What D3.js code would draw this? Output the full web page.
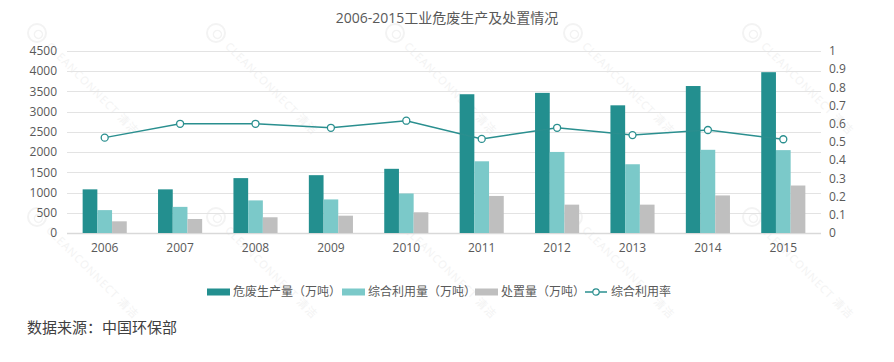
<!DOCTYPE html>
<html>
<head>
<meta charset="utf-8">
<script src="https://cdn.jsdelivr.net/npm/d3@7"></script>
<style>
  body { margin: 0; background: #fff; }
  svg { display: block; font-family: "Open Sans", "Noto Sans CJK SC", sans-serif; }
</style>
</head>
<body>
<div id="chart"></div>
<script>
// data
const years = ["2006","2007","2008","2009","2010","2011","2012","2013","2014","2015"];
const produced = [1079, 1079, 1357, 1430, 1587, 3431, 3465, 3157, 3634, 3976];   // 危废生产量
const utilized = [566, 646, 806, 830, 977, 1773, 2004, 1700, 2057, 2049];        // 综合利用量
const disposed = [289, 346, 389, 428, 512, 916, 701, 701, 929, 1174];            // 处置量
const rate = [0.524, 0.600, 0.600, 0.578, 0.617, 0.517, 0.578, 0.538, 0.566, 0.515]; // 综合利用率
const leftTicks = [0, 500, 1000, 1500, 2000, 2500, 3000, 3500, 4000, 4500];
const rightTicks = [0, 0.1, 0.2, 0.3, 0.4, 0.5, 0.6, 0.7, 0.8, 0.9, 1];

const seriesNames = ["危废生产量（万吨）", "综合利用量（万吨）", "处置量（万吨）"];
const lineName = "综合利用率";

const width = 894, height = 362;
const margin = {top: 51, right: 73, bottom: 129, left: 67};
const colors = ["#238f8f", "#7bc9c9", "#bfbfbf"];
const lineColor = "#2a8f8f";

const svg = d3.select("#chart").append("svg")
  .attr("width", width)
  .attr("height", height);

svg.append("rect").attr("width", width).attr("height", height).attr("fill", "#fff");

// faint watermark
const wm = svg.append("g").attr("class", "watermark");
[33, 217].forEach(function(wy) {
  [37, 216, 395, 573, 752].forEach(function(wx) {
    const g = wm.append("g").attr("transform", "translate(" + wx + "," + wy + ") rotate(45)");
    g.append("circle").attr("r", 9).attr("fill", "none").attr("stroke", "#f3f3f3").attr("stroke-width", 2);
    g.append("circle").attr("cx", 2).attr("r", 4).attr("fill", "none").attr("stroke", "#f3f3f3").attr("stroke-width", 1.5);
    g.append("text").attr("x", 16).attr("dy", "0.35em")
      .style("font-size", "11px").style("letter-spacing", "1px")
      .attr("fill", "#f3f3f3").text("CLEANCONNECT 清洁");
  });
});

const x = d3.scaleBand()
  .domain(years)
  .range([margin.left, width - margin.right])
  .paddingInner(0.415)
  .paddingOuter(0.2075);

const xSub = d3.scaleBand()
  .domain([0, 1, 2])
  .range([0, x.bandwidth()]);

const yL = d3.scaleLinear().domain([0, 4500]).range([height - margin.bottom, margin.top]);
const yR = d3.scaleLinear().domain([0, 1]).range([height - margin.bottom, margin.top]);

// grid
svg.append("g").selectAll("line")
  .data(leftTicks)
  .enter().append("line")
  .attr("x1", margin.left)
  .attr("x2", width - margin.right)
  .attr("y1", d => Math.round(yL(d)) + 0.5)
  .attr("y2", d => Math.round(yL(d)) + 0.5)
  .attr("stroke", d => d === 0 ? "#d9d9d9" : "#e3e3e3")
  .attr("stroke-width", d => d === 0 ? 1.5 : 1);

// left axis labels
svg.append("g").selectAll("text")
  .data(leftTicks)
  .enter().append("text")
  .attr("x", 57)
  .attr("y", d => yL(d))
  .attr("dy", "0.35em")
  .attr("text-anchor", "end")
  .style("font-size", "12px")
  .attr("fill", "#595959")
  .text(d => d);

// right axis labels
svg.append("g").selectAll("text")
  .data(rightTicks)
  .enter().append("text")
  .attr("x", 829)
  .attr("y", d => yR(d))
  .attr("dy", "0.35em")
  .attr("text-anchor", "start")
  .style("font-size", "12px")
  .attr("fill", "#595959")
  .text(d => d3.format("~g")(d));

// x labels
svg.append("g").selectAll("text")
  .data(years)
  .enter().append("text")
  .attr("x", d => x(d) + x.bandwidth() / 2)
  .attr("y", 248)
  .attr("dy", "0.35em")
  .attr("text-anchor", "middle")
  .style("font-size", "12px")
  .attr("fill", "#595959")
  .text(d => d);

// bars
const allSeries = [produced, utilized, disposed];
const bars = svg.append("g");
allSeries.forEach(function(values, s) {
  bars.selectAll(".bar" + s)
    .data(values)
    .enter().append("rect")
    .attr("class", "bar" + s)
    .attr("x", (d, i) => x(years[i]) + xSub(s))
    .attr("y", d => yL(d))
    .attr("width", xSub.bandwidth())
    .attr("height", d => yL(0) - yL(d))
    .attr("fill", colors[s]);
});

// rate line
const line = d3.line()
  .x((d, i) => x(years[i]) + x.bandwidth() / 2)
  .y(d => yR(d));

svg.append("path")
  .datum(rate)
  .attr("d", line)
  .attr("fill", "none")
  .attr("stroke", lineColor)
  .attr("stroke-width", 1.5);

svg.append("g").selectAll("circle")
  .data(rate)
  .enter().append("circle")
  .attr("cx", (d, i) => x(years[i]) + x.bandwidth() / 2)
  .attr("cy", d => yR(d))
  .attr("r", 3.5)
  .attr("fill", "#fff")
  .attr("stroke", lineColor)
  .attr("stroke-width", 1.3);

// title
svg.append("text")
  .attr("x", width / 2)
  .attr("y", 18)
  .attr("dy", "0.35em")
  .attr("text-anchor", "middle")
  .style("font-size", "14px")
  .attr("fill", "#595959")
  .text("2006-2015工业危废生产及处置情况");

// legend
const legend = svg.append("g").attr("transform", "translate(0,292)");
const legendItems = [
  {x: 207, label: seriesNames[0], type: "bar", color: colors[0]},
  {x: 342, label: seriesNames[1], type: "bar", color: colors[1]},
  {x: 475, label: seriesNames[2], type: "bar", color: colors[2]},
  {x: 585, label: lineName, type: "line", color: lineColor}
];
legendItems.forEach(function(it) {
  const g = legend.append("g").attr("transform", "translate(" + it.x + ",0)");
  if (it.type === "bar") {
    g.append("rect").attr("x", 0).attr("y", -3.5).attr("width", 23).attr("height", 7).attr("fill", it.color);
  } else {
    g.append("line").attr("x1", 0).attr("x2", 22).attr("y1", 0).attr("y2", 0)
      .attr("stroke", it.color).attr("stroke-width", 1.5);
    g.append("circle").attr("cx", 11).attr("cy", 0).attr("r", 3.2)
      .attr("fill", "#fff").attr("stroke", it.color).attr("stroke-width", 1.2);
  }
  g.append("text").attr("x", 26).attr("dy", "0.35em")
    .style("font-size", "12px")
    .attr("fill", "#595959")
    .text(it.label);
});

// source note
svg.append("text")
  .attr("x", 27)
  .attr("y", 328)
  .attr("dy", "0.35em")
  .style("font-size", "15px")
  .attr("fill", "#404040")
  .text("数据来源：中国环保部");
</script>
</body>
</html>
